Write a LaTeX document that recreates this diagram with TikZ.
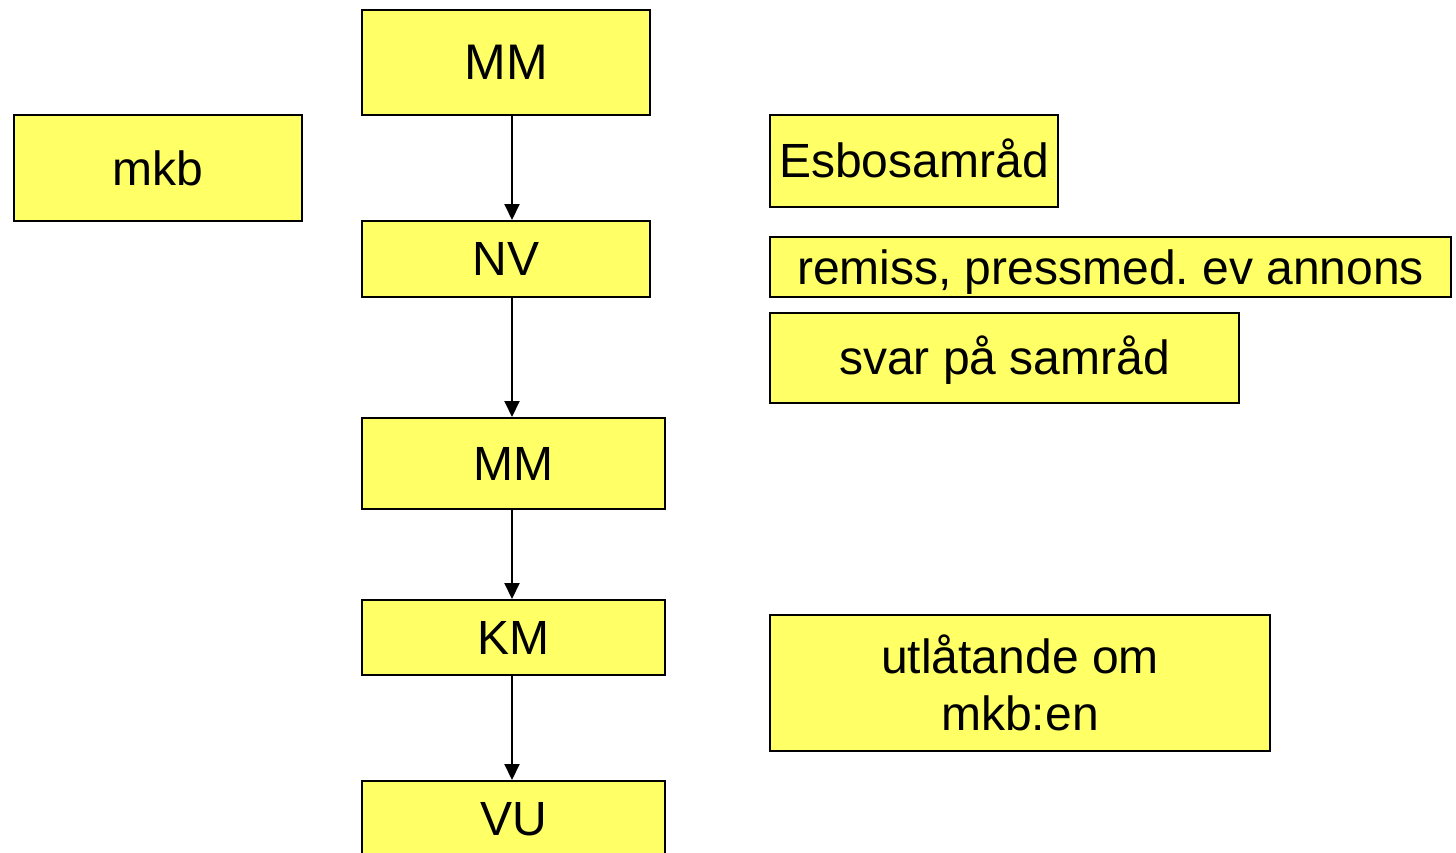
\documentclass[tikz,border=0pt]{standalone}
\usepackage{fontspec}
\setmainfont{Liberation Sans}
\usetikzlibrary{arrows.meta}
\definecolor{boxyellow}{RGB}{255,255,102}
\newcommand{\shiftt}[2]{\raisebox{#1}[\height][\depth]{#2}}
\tikzset{
  box/.style={draw=black, line width=1pt, fill=boxyellow, anchor=north west, inner sep=0pt,
    font=\fontsize{24}{28.5}\selectfont, align=center},
  flow/.style={line width=1pt, -{Triangle[width=7.5pt,length=8pt]}}
}
\begin{document}
\frenchspacing
\begin{tikzpicture}[x=0.5pt,y=-0.5pt]
\useasboundingbox (0,0) rectangle (1456,852);
\node[box, minimum width=144pt, minimum height=52.5pt, font=\fontsize{25}{30}\selectfont] (mm1) at (361,9) {MM};
\node[box, minimum width=144pt, minimum height=53pt] (mkb) at (13,114) {mkb};
\node[box, minimum width=144pt, minimum height=38pt] (nv) at (361,220) {NV};
\node[box, minimum width=151.5pt, minimum height=45.5pt] (mm2) at (361,417) {MM};
\node[box, minimum width=151.5pt, minimum height=37.5pt] (km) at (361,599) {KM};
\node[box, minimum width=151.5pt, minimum height=50pt] (vu) at (361,780) {\shiftt{6pt}{VU}};
\node[box, minimum width=144pt, minimum height=46pt] (esbo) at (769,114) {\shiftt{1.5pt}{Esbosamråd}};
\node[box, minimum width=340.5pt, minimum height=30pt] (remiss) at (769,236) {\shiftt{-2.5pt}{remiss, pressmed. ev annons}};
\node[box, minimum width=234.5pt, minimum height=45pt] (svar) at (769,312) {\shiftt{-1pt}{svar på samråd}};
\node[box, minimum width=250pt, minimum height=68pt] (utl) at (769,614) {utlåtande om\\mkb:en};
\draw[flow] (mm1.south -| 512,0) -- (nv.north -| 512,0);
\draw[flow] (nv.south -| 512,0) -- (mm2.north -| 512,0);
\draw[flow] (mm2.south -| 512,0) -- (km.north -| 512,0);
\draw[flow] (km.south -| 512,0) -- (vu.north -| 512,0);
\end{tikzpicture}
\end{document}
